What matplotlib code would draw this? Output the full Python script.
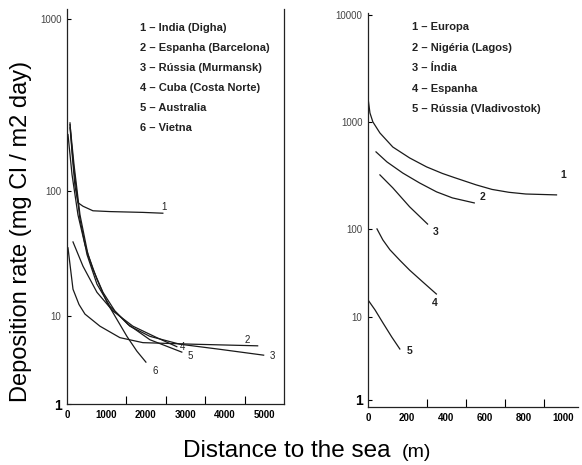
import numpy as np
import matplotlib
matplotlib.use("Agg")
import matplotlib.pyplot as plt
from matplotlib.ticker import NullLocator, FixedLocator

plt.rcParams['font.family'] = ['Liberation Sans', 'DejaVu Sans']

# ---- painel esquerdo (distancia ate 5000 m) ----
left_names = ['1 – India (Digha)', '2 – Espanha (Barcelona)', '3 – Rússia (Murmansk)',
              '4 – Cuba (Costa Norte)', '5 – Australia', '6 – Vietna']
l1_x = [76, 127, 202, 278, 405, 658, 1088, 1923, 2429]
l1_y = [248, 166, 106, 80, 75, 69, 68, 67, 66]
l2_x = [25, 152, 304, 455, 835, 1341, 1923, 3188, 4832]
l2_y = [35, 16.4, 12.4, 10.4, 7.7, 5.7, 5.0, 4.8, 4.6]
l3_x = [25, 127, 278, 455, 658, 911, 1214, 1594, 2100, 2859, 3871, 4984]
l3_y = [212, 124, 64, 37, 23.6, 15.5, 11, 7.7, 5.9, 4.8, 4.2, 3.6]
l4_x = [152, 405, 759, 1164, 1670, 2277, 2783]
l4_y = [39, 25, 15.5, 11, 7.7, 5.7, 4.5]
l5_x = [76, 177, 329, 506, 759, 1088, 1543, 2100, 2910]
l5_y = [232, 132, 59, 31, 18, 12, 8.1, 5.4, 3.9]
l6_x = [76, 177, 329, 531, 759, 1012, 1265, 1518, 1771, 2000]
l6_y = [242, 142, 64, 31, 19.7, 12.9, 9.2, 5.9, 4.0, 3.0]

# ---- painel direito (distancia ate 1000 m) ----
right_names = ['1 – Europa', '2 – Nigéria (Lagos)', '3 – Índia', '4 – Espanha',
               '5 – Rússia (Vladivostok)']
r1_x = [0, 10, 25, 61, 127, 213, 300, 381, 442, 554, 635, 721, 808, 965]
r1_y = [1675, 1214, 1000, 789, 583, 461, 380, 330, 302, 258, 234, 220, 212, 208]
r2_x = [41, 97, 178, 264, 351, 432, 544]
r2_y = [525, 423, 333, 269, 222, 195, 175]
r3_x = [61, 127, 213, 305]
r3_y = [320, 242, 161, 111]
r4_x = [46, 76, 112, 163, 213, 280, 350]
r4_y = [100, 75, 58, 44, 34, 25, 18.2]
r5_x = [0, 36, 76, 122, 163]
r5_y = [15.6, 12, 8.5, 5.7, 4.1]


def make_scale(logs, pos):
    # escala log "esticada" como no grafico digitalizado
    logs = np.asarray(logs, float)
    pos = np.asarray(pos, float)

    def fwd(v):
        v = np.asarray(v, float)
        with np.errstate(divide='ignore', invalid='ignore'):
            lv = np.log10(np.where(v > 0, v, 1e-12))
        return np.interp(lv, logs, pos)

    def inv(p):
        return 10 ** np.interp(np.asarray(p, float), pos, logs)
    return fwd, inv


fig = plt.figure(figsize=(5.82, 4.65), dpi=100)
ax1 = fig.add_axes([67 / 582, 1 - 404 / 465, 217 / 582, 395 / 465])
ax2 = fig.add_axes([368 / 582, 1 - 407 / 465, 210 / 582, 394 / 465])

lc = '#1a1a1a'

# ---------- esquerda ----------
f1 = make_scale([-1, 0, 1, 2, 3, 4], [-88, 0, 88, 214, 386, 558])
ax1.set_yscale('function', functions=f1)
left_series = [(l1_x, l1_y, '1', (1, 6)), (l2_x, l2_y, '2', (-10, 6)),
               (l3_x, l3_y, '3', (9, -1)), (l4_x, l4_y, '4', (6, 0)),
               (l5_x, l5_y, '5', (8, -4)), (l6_x, l6_y, '6', (9, -9))]
for xs, ys, lab, off in left_series:
    ax1.plot(xs, ys, color=lc, lw=0.9)
    ax1.annotate(lab, (xs[-1], ys[-1]), xytext=off, textcoords='offset pixels',
                 fontsize=7, color='#222', ha='center', va='center')
ax1.set_xlim(0, 5500)
ax1.set_ylim(1, 1143)
ax1.set_yticks([1, 10, 100, 1000])
ax1.set_yticklabels(['1', '10', '100', '1000'])
ax1.yaxis.set_minor_locator(NullLocator())
ax1.set_xticks([0, 1000, 2000, 3000, 4000, 5000])
ax1.xaxis.set_minor_locator(FixedLocator(np.arange(1500, 5001, 500)))
ax1.spines['top'].set_visible(False)
for i, name in enumerate(left_names):
    ax1.text(0.336, 0.952 - i * 0.0506, name, transform=ax1.transAxes,
             fontsize=8, fontweight='bold', color='#222', va='center')

# ---------- direita ----------
f2 = make_scale([-1, 0, 1, 2, 3, 4, 5], [-83, 0, 83, 171, 278, 385, 492])
ax2.set_yscale('function', functions=f2)
right_series = [(r1_x, r1_y, '1', (7, 20)), (r2_x, r2_y, '2', (8, 6)),
                (r3_x, r3_y, '3', (8, -8)), (r4_x, r4_y, '4', (-2, -9)),
                (r5_x, r5_y, '5', (10, -2))]
for xs, ys, lab, off in right_series:
    ax2.plot(xs, ys, color=lc, lw=0.9)
    ax2.annotate(lab, (xs[-1], ys[-1]), xytext=off, textcoords='offset pixels',
                 fontsize=7.5, fontweight='bold', color='#222', ha='center', va='center')
ax2.set_xlim(0, 1075)
ax2.set_ylim(0.82, 10440)
ax2.set_yticks([1, 10, 100, 1000, 10000])
ax2.set_yticklabels(['1', '10', '100', '1000', '10000'])
ax2.yaxis.set_minor_locator(NullLocator())
ax2.set_xticks([0, 200, 400, 600, 800, 1000])
ax2.xaxis.set_minor_locator(FixedLocator(np.arange(300, 1001, 100)))
ax2.spines['top'].set_visible(False)
ax2.spines['right'].set_visible(False)
for i, name in enumerate(right_names):
    ax2.text(0.21, 0.964 - i * 0.052, name, transform=ax2.transAxes,
             fontsize=8, fontweight='bold', color='#222', va='center')

for ax in (ax1, ax2):
    for sp in ax.spines.values():
        sp.set_linewidth(0.9)
        sp.set_color('#222')
    ax.tick_params(axis='y', which='major', direction='in', length=3, width=0.8,
                   labelsize=7, labelcolor='#444', pad=4)
    ax.tick_params(axis='x', which='major', length=0, labelsize=7, pad=4)
    ax.tick_params(axis='x', which='minor', direction='in', length=6, width=0.8)
    for t in ax.get_xticklabels():
        t.set_fontweight('bold')
    for t in ax.get_yticklabels():
        if t.get_text() == '1':
            t.set_fontsize(10)
            t.set_fontweight('bold')
            t.set_color('black')

fig.text(21 / 582, 1 - 231 / 465, 'Deposition rate (mg Cl / m2 day)', rotation=90,
         fontsize=17, ha='center', va='center')
fig.text(183 / 582, 1 - 451 / 465, 'Distance to the sea', fontsize=17.5,
         ha='left', va='center')
fig.text(402 / 582, 1 - 452 / 465, '(m)', fontsize=14, ha='left', va='center')

fig.savefig('out.png', dpi=100)
